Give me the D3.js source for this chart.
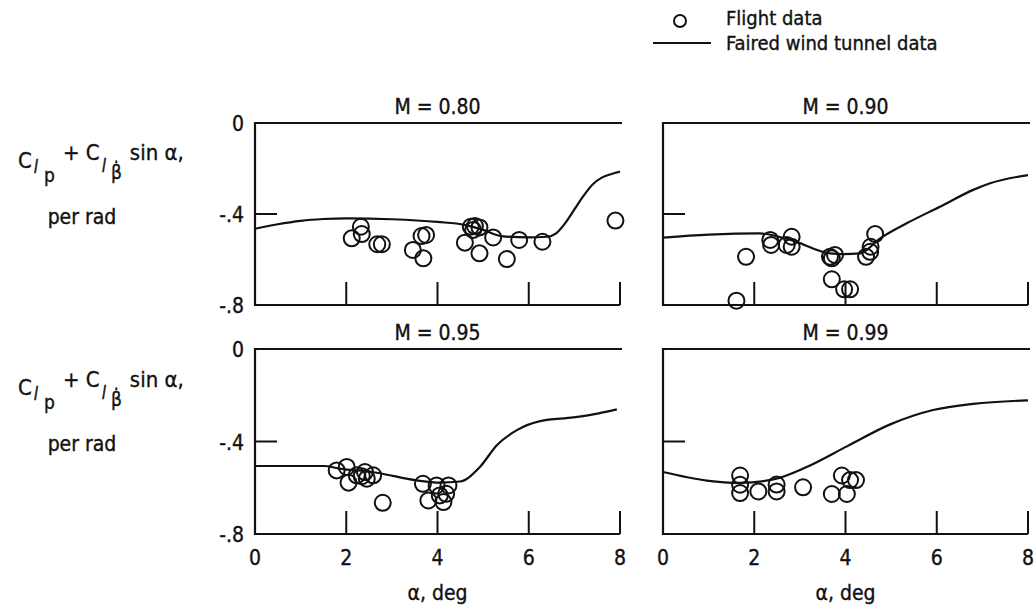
<!DOCTYPE html>
<html><head><meta charset="utf-8">
<script src="https://cdn.jsdelivr.net/npm/d3@7"></script>
<style>
html,body{margin:0;padding:0;background:#fff;}
svg text{font-family:"DejaVu Sans Condensed","DejaVu Sans",sans-serif;font-stretch:condensed;fill:#111;stroke:#111;stroke-width:0.35px;}
</style></head>
<body><svg id="c" width="1036" height="613"></svg>
<script>
// ---- data ----
const alphaTicks = [0, 2, 4, 6, 8];
const coefTicks = [0, -0.4, -0.8];
const coefTickLabels = ["0", "-.4", "-.8"];
const machLabels = ["M = 0.80", "M = 0.90", "M = 0.95", "M = 0.99"];

const flight080Alpha = [2.12, 2.32, 2.34, 2.68, 2.78, 3.46, 3.65, 3.75, 3.69, 4.60, 4.73, 4.82, 4.92, 4.78, 4.92, 5.22, 5.52, 5.79, 6.30, 7.90];
const flight080Coef  = [-0.507, -0.456, -0.488, -0.533, -0.533, -0.558, -0.497, -0.492, -0.595, -0.526, -0.456, -0.453, -0.459, -0.47, -0.573, -0.503, -0.598, -0.514, -0.522, -0.429];
const tunnel080Alpha = [0, 0.5, 1, 1.5, 2, 3, 4, 4.6, 5, 5.4, 6, 6.4, 6.6, 6.8, 7, 7.2, 7.4, 7.6, 7.8, 8];
const tunnel080Coef  = [-0.465, -0.445, -0.43, -0.422, -0.419, -0.423, -0.435, -0.448, -0.47, -0.497, -0.503, -0.5, -0.485, -0.44, -0.38, -0.32, -0.27, -0.24, -0.225, -0.214];

const flight090Alpha = [1.61, 1.82, 2.35, 2.37, 2.71, 2.82, 2.82, 3.66, 3.70, 3.77, 3.70, 3.97, 4.10, 4.45, 4.54, 4.55, 4.65];
const flight090Coef  = [-0.781, -0.588, -0.514, -0.536, -0.536, -0.50, -0.544, -0.588, -0.595, -0.58, -0.687, -0.731, -0.731, -0.588, -0.566, -0.544, -0.488];
const tunnel090Alpha = [0, 1, 2.1, 2.8, 3.66, 3.95, 4.32, 4.76, 5.34, 6.07, 6.8, 7.17, 8];
const tunnel090Coef  = [-0.504, -0.491, -0.485, -0.514, -0.573, -0.576, -0.573, -0.507, -0.441, -0.368, -0.294, -0.265, -0.229];

const flight095Alpha = [1.79, 2.01, 2.05, 2.23, 2.34, 2.41, 2.45, 2.59, 2.80, 3.68, 3.80, 3.98, 4.05, 4.13, 4.19, 4.24];
const flight095Coef  = [-0.525, -0.51, -0.578, -0.546, -0.55, -0.532, -0.561, -0.546, -0.665, -0.583, -0.655, -0.59, -0.633, -0.662, -0.626, -0.59];
const tunnel095Alpha = [0, 1.5, 1.86, 2.67, 3.54, 4.05, 4.49, 4.93, 5.3, 5.74, 6.25, 6.98, 7.41, 7.93];
const tunnel095Coef  = [-0.506, -0.506, -0.517, -0.535, -0.568, -0.578, -0.573, -0.51, -0.416, -0.351, -0.312, -0.296, -0.283, -0.261];

const flight099Alpha = [1.69, 1.69, 1.69, 2.09, 2.49, 2.49, 3.07, 3.70, 3.92, 4.03, 4.10, 4.23];
const flight099Coef  = [-0.547, -0.587, -0.623, -0.616, -0.586, -0.616, -0.598, -0.627, -0.547, -0.627, -0.567, -0.567];
const tunnel099Alpha = [0, 0.96, 1.69, 2.42, 3.15, 4.03, 4.98, 5.92, 6.8, 8];
const tunnel099Coef  = [-0.532, -0.569, -0.579, -0.564, -0.51, -0.421, -0.326, -0.264, -0.237, -0.222];

const panelsData = [
  {fa: flight080Alpha, fc: flight080Coef, ta: tunnel080Alpha, tc: tunnel080Coef},
  {fa: flight090Alpha, fc: flight090Coef, ta: tunnel090Alpha, tc: tunnel090Coef},
  {fa: flight095Alpha, fc: flight095Coef, ta: tunnel095Alpha, tc: tunnel095Coef},
  {fa: flight099Alpha, fc: flight099Coef, ta: tunnel099Alpha, tc: tunnel099Coef}
];

// ---- layout ----
const svg = d3.select("#c");
const cols = [[255, 620], [663, 1028]];
const rows = [[123, 305], [349, 534]];
const stroke = "#111";
const fs = 21;

panelsData.forEach((pd, i) => {
  const col = cols[i % 2], row = rows[Math.floor(i / 2)];
  const x = d3.scaleLinear().domain([0, 8]).range(col);
  const y = d3.scaleLinear().domain([-0.8, 0]).range([row[1], row[0]]);
  const g = svg.append("g");

  g.append("path")
    .attr("d", `M${x(8)+2},${y(0)} L${x(0)},${y(0)} L${x(0)},${y(-0.8)} L${x(8)},${y(-0.8)}`)
    .attr("fill", "none").attr("stroke", stroke).attr("stroke-width", 2.2);
  alphaTicks.filter(t => t > 0).forEach(t => {
    g.append("line").attr("x1", x(t)).attr("x2", x(t))
      .attr("y1", y(-0.8)).attr("y2", y(-0.8) - 23)
      .attr("stroke", stroke).attr("stroke-width", 2);
  });
  g.append("line").attr("x1", x(0)).attr("x2", x(0) + 22)
    .attr("y1", y(-0.4)).attr("y2", y(-0.4))
    .attr("stroke", stroke).attr("stroke-width", 2);

  if (i % 2 === 0) {
    coefTicks.forEach((t, k) => {
      g.append("text").attr("x", x(0) - 11).attr("y", y(t) + 8)
        .attr("text-anchor", "end").attr("font-size", fs).text(coefTickLabels[k]);
    });
  }
  if (i >= 2) {
    alphaTicks.forEach(t => {
      g.append("text").attr("x", x(t)).attr("y", y(-0.8) + 31)
        .attr("text-anchor", "middle").attr("font-size", fs).text(t);
    });
    g.append("text").attr("x", (col[0] + col[1]) / 2).attr("y", 600)
      .attr("text-anchor", "middle").attr("font-size", fs).text("α, deg");
  }
  g.append("text").attr("x", (col[0] + col[1]) / 2).attr("y", y(0) - 9)
    .attr("text-anchor", "middle").attr("font-size", fs).text(machLabels[i]);

  const pts = pd.ta.map((a, k) => [a, pd.tc[k]]);
  g.append("path").datum(pts)
    .attr("d", d3.line().x(d => x(d[0])).y(d => y(d[1])).curve(d3.curveMonotoneX))
    .attr("fill", "none").attr("stroke", stroke).attr("stroke-width", 2.2);

  g.selectAll("circle.f").data(pd.fa.map((a, k) => [a, pd.fc[k]])).enter()
    .append("circle").attr("class", "f")
    .attr("cx", d => x(d[0])).attr("cy", d => y(d[1])).attr("r", 8)
    .attr("fill", "none").attr("stroke", stroke).attr("stroke-width", 2);
});

// y-axis titles
[0, 1].forEach(r => {
  const off = r === 0 ? 0 : 227;
  const t = svg.append("text").attr("x", 18).attr("y", 168 + off).attr("font-size", 22);
  t.append("tspan").text("C");
  t.append("tspan").attr("font-size", 17).attr("font-style", "italic").attr("dx", 2).attr("dy", 5).text("l");
  t.append("tspan").attr("font-size", 19).attr("dx", 6).attr("dy", 9).text("p");
  t.append("tspan").attr("dx", 8).attr("dy", -22).text("+ C");
  t.append("tspan").attr("font-size", 17).attr("font-style", "italic").attr("dx", 2).attr("dy", 12).text("l");
  t.append("tspan").attr("font-size", 19).attr("dx", 5).attr("dy", 7).text("β̇");
  t.append("tspan").attr("dx", 8).attr("dy", -19).text("sin α,");
  svg.append("text").attr("x", 82).attr("y", 224 + off).attr("text-anchor", "middle")
    .attr("font-size", fs).text("per rad");
});

// legend
svg.append("circle").attr("cx", 680).attr("cy", 21).attr("r", 6)
  .attr("fill", "none").attr("stroke", stroke).attr("stroke-width", 2);
svg.append("text").attr("x", 726).attr("y", 25).attr("font-size", 20).text("Flight data");
svg.append("line").attr("x1", 653).attr("x2", 711).attr("y1", 43).attr("y2", 43)
  .attr("stroke", stroke).attr("stroke-width", 2);
svg.append("text").attr("x", 726).attr("y", 50).attr("font-size", 20).text("Faired wind tunnel data");
</script></body></html>
